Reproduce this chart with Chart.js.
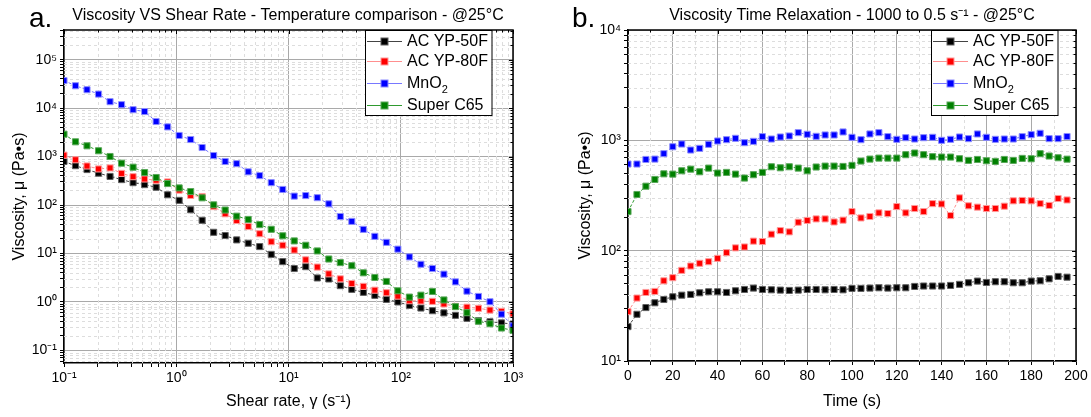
<!DOCTYPE html>
<html>
<head>
<meta charset="utf-8">
<title>Viscosity charts</title>
<script src="https://cdn.jsdelivr.net/npm/chart.js@4.4.1/dist/chart.umd.min.js"></script>
<style>
  html, body { margin: 0; padding: 0; background: #fff; }
  #wrap { position: relative; width: 1091px; height: 417px; }
  canvas { position: absolute; top: 0; }
  #chartA { left: 0; }
  #chartB { left: 545px; }
</style>
</head>
<body>
<div id="wrap">
  <canvas id="chartA" width="545" height="417"></canvas>
  <canvas id="chartB" width="546" height="417"></canvas>
</div>
<script>
// ========== DATA ==========
const seriesNames = ["AC YP-50F", "AC YP-80F", "MnO₂", "Super C65"];

// panel a: shear sweep (s^-1)
const shearRate = [
  0.1, 0.1266, 0.1603, 0.2031, 0.2572, 0.3257, 0.4125, 0.5224, 0.6615, 0.8377,
  1.061, 1.344, 1.701, 2.154, 2.728, 3.455, 4.375, 5.54, 7.017, 8.886,
  11.25, 14.25, 18.05, 22.86, 28.94, 36.65, 46.42, 58.78, 74.44, 94.28,
  119.4, 151.2, 191.5, 242.4, 307.1, 388.8, 492.4, 623.6, 789.7, 1000
];
const ac50Shear = [
  795, 650, 540, 455, 390, 335, 290, 264, 233, 163,
  125, 80, 48.5, 27.4, 23.5, 19.1, 16.3, 13.9, 9.6, 6.8,
  4.9, 5.35, 3.13, 2.98, 2.17, 1.82, 1.58, 1.37, 1.13, 1.0,
  0.85, 0.75, 0.66, 0.595, 0.53, 0.46, 0.41, 0.39, 0.37, 0.35
];
const ac80Shear = [
  1070, 860, 640, 556, 583, 450, 385, 345, 325, 300,
  203, 158, 150, 93, 66, 48, 36, 25.6, 17.5, 14.8,
  11.8, 7.4, 5.25, 3.8, 3.0, 2.4, 2.1, 1.75, 1.55, 1.32,
  1.06, 1.05, 1.03, 0.91, 0.81, 0.78, 0.74, 0.68, 0.64, 0.57
];
const mno2Shear = [
  37000, 29000, 24000, 19500, 13600, 11800, 9300, 8500, 5300, 4100,
  2730, 2250, 1540, 1050, 792, 715, 485, 405, 290, 210,
  153, 157, 142, 106, 58, 46, 31.5, 22.6, 17, 12.3,
  8.5, 6.0, 4.9, 3.75, 2.6, 1.67, 1.3, 1.01, 0.56, 0.32
];
const c65Shear = [
  2900, 2020, 1670, 1320, 1005, 731, 604, 469, 370, 278,
  226, 190, 141, 101, 79, 59, 50.5, 39.5, 31.6, 23.2,
  18.2, 14.8, 11.3, 7.7, 6.5, 5.6, 4.0, 3.2, 2.65, 1.7,
  1.26, 1.38, 1.65, 1.1, 0.8, 0.6, 0.4, 0.355, 0.29, 0.26
];

// panel b: relaxation in time (s)
const timeS = [
  0, 4, 8, 12, 16, 20, 24, 28, 32, 36, 40, 44, 48, 52, 56, 60, 64, 68, 72, 76,
  80, 84, 88, 92, 96, 100, 104, 108, 112, 116, 120, 124, 128, 132, 136, 140, 144, 148, 152, 156,
  160, 164, 168, 172, 176, 180, 184, 188, 192, 196
];
const ac50Time = [
  20.5, 26.5, 30.5, 33.7, 36.1, 38.2, 39.5, 40.1, 41.5, 42.4, 42.4, 41.8, 43.3, 44.5, 45.8, 44.5, 44.2, 43.9, 43.6, 43.9,
  44.5, 44.5, 44.2, 44.5, 44.2, 45.5, 45.5, 45.8, 46.1, 45.8, 46.1, 46.1, 47.4, 47.8, 47.8, 47.8, 48.4, 49.5, 51.2, 53.0,
  51.5, 52.3, 52.3, 51.2, 51.2, 53.0, 53.4, 55.6, 58.4, 57.5
];
const ac80Time = [
  28.0, 37.2, 41.8, 42.7, 53.3, 56.9, 66.3, 72.6, 76.8, 79.4, 85.2, 95.9, 106, 108, 122, 121, 141, 152, 148, 181,
  188, 194, 194, 182, 189, 226, 198, 204, 220, 217, 251, 220, 241, 226, 267, 265, 208, 301, 255, 248,
  241, 241, 253, 283, 285, 283, 267, 257, 297, 288
];
const mno2Time = [
  610, 610, 671, 676, 757, 875, 926, 817, 846, 920, 986, 1014, 1043, 952, 979, 1080, 1028, 1072, 1095, 1174,
  1134, 1087, 1118, 1118, 1191, 1065, 1014, 1142, 1174, 1080, 1021, 1057, 1028, 1057, 1065, 1000, 1021, 1072, 1036, 1142,
  1065, 1021, 1028, 1028, 1080, 1126, 1158, 1036, 1036, 1083
];
const c65Time = [
  226, 323, 384, 442, 497, 494, 530, 548, 519, 560, 505, 512, 494, 455, 488, 512, 576, 564, 576, 560,
  530, 573, 584, 584, 580, 593, 649, 676, 690, 690, 690, 741, 767, 741, 711, 705, 705, 681, 658, 671,
  653, 644, 671, 658, 686, 681, 757, 721, 695, 675
];

// ========== STYLE ==========
const FONT = "'Liberation Sans', Arial, sans-serif";
const markColors = ["#000000", "#ff0000", "#0000ff", "#008000"];
const edgeColors = ["#606060", "#ff9a9a", "#8c8cff", "#5aa85a"];
const lineColors = ["#444444", "#ff8f8f", "#7878ff", "#2f9a2f"];

const supMap = { "-": "⁻", "0": "⁰", "1": "¹", "2": "²", "3": "³", "4": "⁴", "5": "⁵", "6": "⁶", "7": "⁷", "8": "⁸", "9": "⁹" };
function powLabel(v) {
  const e = Math.round(Math.log10(v));
  return "10" + String(e).split("").map(c => supMap[c]).join("");
}

// 1..9 x 10^n ticks, decades are the major ones
function logTicks(scale) {
  const ticks = [];
  const lo = Math.floor(Math.log10(scale.min));
  const hi = Math.ceil(Math.log10(scale.max));
  for (let e = lo; e <= hi; e++) {
    for (let k = 1; k < 10; k++) {
      const v = k * Math.pow(10, e);
      if (v >= scale.min * 0.9999 && v <= scale.max * 1.0001) ticks.push({ value: v, major: k === 1 });
    }
  }
  scale.ticks = ticks;
}

function timeTicks(scale) {
  const ticks = [];
  for (let v = 0; v <= 200; v += 10) ticks.push({ value: v, major: v % 20 === 0 });
  scale.ticks = ticks;
}

function makeDatasets(xs, ys) {
  return ys.map((vals, i) => ({
    label: seriesNames[i],
    data: vals.map((v, j) => ({ x: xs[j], y: v })),
    borderColor: lineColors[i],
    borderWidth: 1,
    borderDash: [3, 2],
    pointStyle: "rect",
    pointRadius: 4.3,
    pointBackgroundColor: markColors[i],
    pointBorderColor: edgeColors[i],
    pointBorderWidth: 1,
    order: 4 - i
  }));
}

const majorGrid = ctx => (ctx.tick && ctx.tick.major) ? "#a9a9a9" : "rgba(0,0,0,0)";

function axis(extra) {
  return Object.assign({
    ticks: {
      autoSkip: false, maxRotation: 0, color: "#000", padding: 3,
      font: { family: FONT, size: 14 }
    },
    grid: { color: majorGrid, tickColor: "#000", tickLength: 4, lineWidth: 1 },
    border: { color: "#000", width: 1.5 }
  }, extra);
}

// ========== DECORATION PLUGIN ==========
// minor dashed grid, frame, titles and the boxed legend
const decor = {
  id: "decor",
  beforeDatasetsDraw(chart) {
    const { ctx, chartArea: a, scales } = chart;
    ctx.save();
    ctx.strokeStyle = "#dddddd";
    ctx.lineWidth = 1;
    ctx.setLineDash([3, 3]);
    scales.x.ticks.forEach(t => {
      if (t.major) return;
      const px = Math.round(scales.x.getPixelForValue(t.value)) + 0.5;
      ctx.beginPath(); ctx.moveTo(px, a.top); ctx.lineTo(px, a.bottom); ctx.stroke();
    });
    scales.y.ticks.forEach(t => {
      if (t.major) return;
      const py = Math.round(scales.y.getPixelForValue(t.value)) + 0.5;
      ctx.beginPath(); ctx.moveTo(a.left, py); ctx.lineTo(a.right, py); ctx.stroke();
    });
    ctx.restore();
  },
  afterDraw(chart, args, opts) {
    const { ctx, chartArea: a, scales } = chart;
    ctx.save();

    // top + right frame with inward ticks
    ctx.strokeStyle = "#000";
    ctx.lineWidth = 1.5;
    ctx.beginPath();
    ctx.moveTo(a.left, a.top); ctx.lineTo(a.right, a.top); ctx.lineTo(a.right, a.bottom);
    ctx.stroke();
    ctx.lineWidth = 1;
    scales.x.ticks.forEach(t => {
      const px = Math.round(scales.x.getPixelForValue(t.value)) + 0.5;
      ctx.beginPath(); ctx.moveTo(px, a.top); ctx.lineTo(px, a.top + (t.major ? 4 : 2.5)); ctx.stroke();
    });
    scales.y.ticks.forEach(t => {
      const py = Math.round(scales.y.getPixelForValue(t.value)) + 0.5;
      ctx.beginPath(); ctx.moveTo(a.right, py); ctx.lineTo(a.right - (t.major ? 4 : 2.5), py); ctx.stroke();
    });

    // panel letter and title
    ctx.fillStyle = "#000";
    ctx.textBaseline = "alphabetic";
    ctx.textAlign = "left";
    ctx.font = "28px " + FONT;
    ctx.fillText(opts.letter, opts.letterX, 27);
    ctx.textAlign = "center";
    ctx.font = "16px " + FONT;
    ctx.textBaseline = "middle";
    ctx.fillText(opts.title, opts.titleX, 16);

    // axis titles
    ctx.fillText(opts.xTitle, (a.left + a.right) / 2, 402);
    ctx.save();
    ctx.translate(opts.yTitleX, (a.top + a.bottom) / 2);
    ctx.rotate(-Math.PI / 2);
    ctx.fillText(opts.yTitle, 0, 0);
    ctx.restore();

    // legend box
    const lx = opts.legendX, lw = 126.5;
    ctx.fillStyle = "#fff";
    ctx.fillRect(lx, a.top + 0.5, lw, 85);
    ctx.strokeStyle = "#000";
    ctx.lineWidth = 1;
    ctx.strokeRect(lx + 0.5, a.top + 0.5, lw, 85);
    const rows = [41, 61, 83, 105];
    chart.data.datasets.forEach((ds, i) => {
      const y = rows[i] + 0.5;
      ctx.strokeStyle = ds.borderColor;
      ctx.beginPath(); ctx.moveTo(lx + 2, y); ctx.lineTo(lx + 37, y); ctx.stroke();
      ctx.fillStyle = ds.pointBorderColor;
      ctx.fillRect(lx + 15.5, y - 4, 8, 8);
      ctx.fillStyle = ds.pointBackgroundColor;
      ctx.fillRect(lx + 16.5, y - 3, 6, 6);
      ctx.fillStyle = "#000";
      ctx.textAlign = "left";
      ctx.textBaseline = "middle";
      ctx.font = "16px " + FONT;
      const parts = ds.label.split("₂");
      ctx.fillText(parts[0], lx + 42, y);
      if (parts.length > 1) {
        const w = ctx.measureText(parts[0]).width;
        ctx.font = "11px " + FONT;
        ctx.fillText("2", lx + 42 + w, y + 6);
      }
    });
    ctx.restore();
  }
};

function baseOptions(padRight) {
  return {
    responsive: false,
    animation: false,
    layout: { padding: { left: 0, right: padRight, top: 30, bottom: 0 } },
    plugins: { legend: { display: false }, title: { display: false }, tooltip: { enabled: false } }
  };
}

// ========== CHART a ==========
const optsA = baseOptions(32);
optsA.plugins.decor = {
  letter: "a.", letterX: 29, title: "Viscosity VS Shear Rate - Temperature comparison - @25°C", titleX: 288,
  xTitle: "Shear rate, γ (s⁻¹)", yTitle: "Viscosity, μ (Pa•s)", yTitleX: 20, legendX: 365
};
optsA.scales = {
  x: axis({
    type: "logarithmic", min: 0.1, max: 1000,
    afterBuildTicks: logTicks,
    afterFit: s => { s.height = 54; }
  }),
  y: axis({
    type: "logarithmic", min: 0.055, max: 410000,
    afterBuildTicks: logTicks,
    afterFit: s => { s.width = 64; }
  })
};
optsA.scales.x.ticks.callback = (v, i, t) => t[i].major ? powLabel(v) : "";
optsA.scales.y.ticks.callback = (v, i, t) => t[i].major ? powLabel(v) : "";

new Chart(document.getElementById("chartA"), {
  type: "line",
  data: { datasets: makeDatasets(shearRate, [ac50Shear, ac80Shear, mno2Shear, c65Shear]) },
  options: optsA,
  plugins: [decor]
});

// ========== CHART b ==========
const optsB = baseOptions(15);
optsB.plugins.decor = {
  letter: "b.", letterX: 27, title: "Viscosity Time Relaxation - 1000 to 0.5 s⁻¹ - @25°C", titleX: 307,
  xTitle: "Time (s)", yTitle: "Viscosity, μ (Pa•s)", yTitleX: 41, legendX: 386
};
optsB.scales = {
  x: axis({
    type: "linear", min: 0, max: 200,
    afterBuildTicks: timeTicks,
    afterFit: s => { s.height = 56; }
  }),
  y: axis({
    type: "logarithmic", min: 10, max: 10000,
    afterBuildTicks: logTicks,
    afterFit: s => { s.width = 83; }
  })
};
optsB.scales.x.ticks.callback = (v, i, t) => t[i].major ? String(v) : "";
optsB.scales.y.ticks.callback = (v, i, t) => t[i].major ? powLabel(v) : "";

new Chart(document.getElementById("chartB"), {
  type: "line",
  data: { datasets: makeDatasets(timeS, [ac50Time, ac80Time, mno2Time, c65Time]) },
  options: optsB,
  plugins: [decor]
});
</script>
</body>
</html>
